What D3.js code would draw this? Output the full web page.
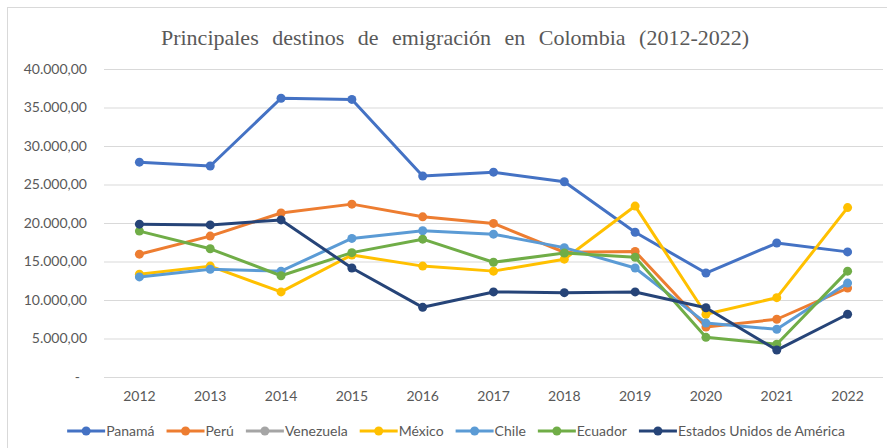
<!DOCTYPE html>
<html>
<head>
<meta charset="utf-8">
<script src="https://cdn.jsdelivr.net/npm/d3@7"></script>
<style>
  body { margin: 0; background: #fff; }
  svg { display: block; }
</style>
</head>
<body>
<div class="vis-lines"></div>
<script>
const years = ['2012', '2013', '2014', '2015', '2016', '2017', '2018', '2019', '2020', '2021', '2022'];
const yTicks = [0, 5000, 10000, 15000, 20000, 25000, 30000, 35000, 40000];

const panama = [27900, 27400, 36200, 36050, 26100, 26600, 25350, 18800, 13500, 17400, 16250];
const peru = [15950, 18300, 21300, 22450, 20800, 19950, 16200, 16300, 6500, 7500, 11550];
const venezuela = [];
const mexico = [13350, 14400, 11050, 15850, 14400, 13750, 15300, 22200, 8150, 10300, 22000];
const chile = [13000, 14000, 13750, 18000, 19000, 18550, 16800, 14150, 7000, 6200, 12200];
const ecuador = [18950, 16650, 13150, 16150, 17900, 14900, 16100, 15550, 5150, 4250, 13750];
const usa = [19850, 19750, 20400, 14150, 9050, 11050, 10950, 11050, 9000, 3500, 8150];

const seriesNames = ['Panamá', 'Perú', 'Venezuela', 'México', 'Chile', 'Ecuador', 'Estados Unidos de América'];
const seriesValues = [panama, peru, venezuela, mexico, chile, ecuador, usa];
const colors = ['#4472C4', '#ED7D31', '#A5A5A5', '#FFC000', '#5B9BD5', '#70AD47', '#264478'];

const width = 887;
const height = 448;
const font = 'Lato, "Open Sans", sans-serif';
const textColor = '#595959';

const svg = d3.select('.vis-lines').append('svg')
    .attr('width', width).attr('height', height);

// chart frame
svg.append('rect')
    .attr('x', 7.5).attr('y', 7.5)
    .attr('width', width + 20).attr('height', height + 20)
    .attr('fill', 'none')
    .attr('stroke', '#d9d9d9');

svg.append('text')
    .attr('x', 455).attr('y', 45)
    .attr('text-anchor', 'middle')
    .attr('fill', textColor)
    .style('font-family', '"Liberation Serif", "Times New Roman", serif')
    .style('font-size', '22px')
    .style('word-spacing', '8px')
    .text('Principales destinos de emigración en Colombia (2012-2022)');

const plot = { left: 104, right: 883, top: 69, bottom: 377 };

const xScale = d3.scaleBand()
    .domain(years)
    .range([plot.left, plot.right]);

const yScale = d3.scaleLinear()
    .domain([0, 40000])
    .range([plot.bottom, plot.top]);

const fmt = v => v === 0 ? '-  ' : d3.format(',.2f')(v).replace(/,/g, '#').replace('.', ',').replace(/#/g, '.');

const yAxis = d3.axisLeft(yScale)
    .tickValues(yTicks)
    .tickSize(-(plot.right - plot.left))
    .tickPadding(17)
    .tickFormat(fmt);

const yAxisG = svg.append('g')
    .attr('transform', `translate(${plot.left},0)`)
    .call(yAxis);
yAxisG.select('.domain').remove();
yAxisG.selectAll('line').attr('stroke', '#d9d9d9').attr('stroke-width', 1);
yAxisG.selectAll('text')
    .attr('fill', textColor)
    .style('font-family', font)
    .style('font-size', '14px')
    .style('white-space', 'pre');

const xAxis = d3.axisBottom(xScale).tickSize(0).tickPadding(14);
const xAxisG = svg.append('g')
    .attr('transform', `translate(0,${plot.bottom})`)
    .call(xAxis);
xAxisG.select('.domain').remove();
xAxisG.selectAll('text')
    .attr('fill', textColor)
    .style('font-family', font)
    .style('font-size', '14px');

const xPos = i => xScale(years[i]) + xScale.bandwidth() / 2;

const line = d3.line()
    .x((d, i) => xPos(i))
    .y(d => yScale(d));

seriesValues.forEach((values, s) => {
    if (!values.length) return;
    const g = svg.append('g');
    g.append('path')
        .datum(values)
        .attr('d', line)
        .attr('fill', 'none')
        .attr('stroke', colors[s])
        .attr('stroke-width', 3)
        .attr('stroke-linejoin', 'round')
        .attr('stroke-linecap', 'round');
    g.selectAll('circle').data(values)
        .enter().append('circle')
        .attr('cx', (d, i) => xPos(i))
        .attr('cy', d => yScale(d))
        .attr('r', 4.5)
        .attr('fill', colors[s]);
});

// legend
const legend = svg.append('g');
let lx = 0;
seriesNames.forEach((name, i) => {
    const row = legend.append('g').attr('transform', `translate(${lx},0)`);
    row.append('line')
        .attr('x1', 0).attr('x2', 38)
        .attr('stroke', colors[i])
        .attr('stroke-width', 3);
    row.append('circle')
        .attr('cx', 19).attr('r', 4.5)
        .attr('fill', colors[i]);
    const t = row.append('text')
        .attr('x', 39).attr('y', 5)
        .attr('fill', textColor)
        .style('font-family', font)
        .style('font-size', '14px')
        .text(name);
    lx += 39 + t.node().getComputedTextLength() + 12;
});
lx -= 12;
legend.attr('transform', `translate(${456 - lx / 2},431)`);
</script>
</body>
</html>
